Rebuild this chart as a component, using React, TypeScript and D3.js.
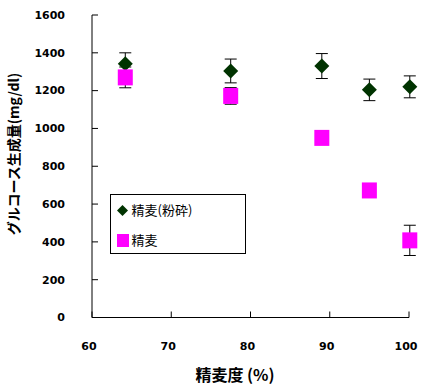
import React from "react";
import * as d3 from "d3";

// 精麦度 (%) per sample
const polishing = [64.2, 77.5, 89, 95, 100.1];
// 精麦(粉砕) : mean and error
const crushedMean = [1342, 1304, 1330, 1204, 1220];
const crushedErr = [58, 63, 66, 57, 58];
// 精麦 : mean and error
const wholeMean = [1270, 1172, 950, 672, 408];
const wholeErr = [55, 44, 0, 0, 80];

const xTicks = [60, 70, 80, 90, 100];
const yTicks = [0, 200, 400, 600, 800, 1000, 1200, 1400, 1600];

const DARK = "#003300";
const PINK = "#ff00ff";
const tickFont = "'DejaVu Sans', sans-serif";
const jpFont = "'Noto Sans CJK JP', sans-serif";

export default function App() {
  const width = 425, height = 388;
  const x = d3.scaleLinear().domain([60, 100]).range([92, 409]);
  const y = d3.scaleLinear().domain([0, 1600]).range([317.5, 15]);

  const errBar = (cx: number, m: number, e: number, key: string) => {
    if (!e) return null;
    return (
      <g key={key} stroke="#000" strokeWidth={1}>
        <line x1={cx} x2={cx} y1={y(m + e)} y2={y(m - e)} />
        <line x1={cx - 6} x2={cx + 6} y1={y(m + e)} y2={y(m + e)} />
        <line x1={cx - 6} x2={cx + 6} y1={y(m - e)} y2={y(m - e)} />
      </g>
    );
  };

  const diamond = (cx: number, cy: number, r: number) =>
    `M${cx},${cy - r}L${cx + r},${cy}L${cx},${cy + r}L${cx - r},${cy}Z`;

  return (
    <svg width={width} height={height} style={{ position: "absolute", left: 0, top: 0 }}>
      <rect width={width} height={height} fill="#fff" />

      {/* axes */}
      <line x1={92} x2={92} y1={y(1600)} y2={y(0)} stroke="#000" />
      <line x1={92} x2={409} y1={y(0)} y2={y(0)} stroke="#000" />
      {yTicks.map((t) => (
        <g key={"y" + t}>
          <line x1={92} x2={98} y1={y(t)} y2={y(t)} stroke="#000" />
          <text x={65} y={y(t)} dy="0.35em" textAnchor="end" fontFamily={tickFont}
            fontWeight="bold" fontSize={11}>{t}</text>
        </g>
      ))}
      {xTicks.map((t) => (
        <g key={"x" + t}>
          <line x1={x(t)} x2={x(t)} y1={y(0)} y2={y(0) - 6} stroke="#000" />
          <text x={x(t) - 3} y={350} textAnchor="middle" fontFamily={tickFont}
            fontWeight="bold" fontSize={11}>{t}</text>
        </g>
      ))}

      {/* axis titles */}
      <text x={235} y={381} textAnchor="middle" fontFamily={jpFont} fontWeight="bold"
        fontSize={16}>精麦度 (%)</text>
      <text transform={`translate(19,154) rotate(-90)`} textAnchor="middle" fontFamily={jpFont}
        fontWeight="bold" fontSize={14}>グルコース生成量(mg/dl)</text>

      {/* error bars */}
      {polishing.map((p, i) => errBar(x(p), crushedMean[i], crushedErr[i], "ce" + i))}
      {polishing.map((p, i) => errBar(x(p), wholeMean[i], wholeErr[i], "we" + i))}

      {/* 精麦(粉砕) diamonds */}
      {polishing.map((p, i) => (
        <path key={"d" + i} d={diamond(x(p), y(crushedMean[i]), 7.5)} fill={DARK} />
      ))}
      {/* 精麦 squares */}
      {polishing.map((p, i) => (
        <rect key={"s" + i} x={x(p) - 7.5} y={y(wholeMean[i]) - 8} width={15} height={16} fill={PINK} />
      ))}

      {/* legend */}
      <rect x={110.5} y={194.5} width={135} height={59} fill="#fff" stroke="#000" />
      <path d={diamond(122.5, 210.5, 5.5)} fill={DARK} />
      <text x={131.5} y={215} fontFamily={jpFont} fontSize={13}>精麦(粉砕)</text>
      <rect x={117} y={234} width={12} height={13} fill={PINK} />
      <text x={131.5} y={245} fontFamily={jpFont} fontSize={13}>精麦</text>
    </svg>
  );
}
